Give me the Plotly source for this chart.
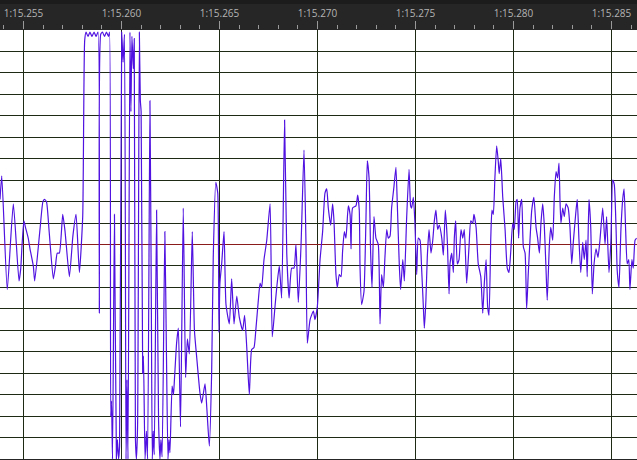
import plotly.graph_objects as go

# time in milliseconds after 1:15.000, amplitude normalised to [-1, 1]
time_ms = [253.80, 253.89, 254.17, 254.48, 254.77, 254.86, 254.92, 255.02, 255.10, 255.24,
           255.33, 255.50, 255.57, 255.84, 255.99, 256.07, 256.17, 256.30, 256.52, 256.63,
           256.72, 256.83, 257.00, 257.12, 257.34, 257.52, 257.68, 257.85, 258.02, 258.12,
           258.19, 258.29, 258.39, 258.49, 258.60, 258.70, 258.80, 258.87, 258.94, 259.03,
           259.13, 259.23, 259.34, 259.39, 259.45, 259.49, 259.54, 259.64, 259.74, 259.79,
           259.85, 259.90, 260.01, 260.08, 260.15, 260.23, 260.28, 260.33, 260.43, 260.48,
           260.53, 260.60, 260.65, 260.71, 260.76, 260.82, 260.91, 260.96, 261.00, 261.08,
           261.12, 261.20, 261.27, 261.33, 261.45, 261.52, 261.57, 261.62, 261.67, 261.79,
           261.89, 261.96, 262.01, 262.07, 262.21, 262.29, 262.37, 262.42, 262.47, 262.58,
           262.65, 262.70, 262.81, 262.90, 263.01, 263.15, 263.27, 263.36, 263.46, 263.61,
           263.72, 263.84, 264.00, 264.09, 264.26, 264.35, 264.48, 264.60, 264.68, 264.81,
           264.91, 264.97, 265.02, 265.11, 265.23, 265.33, 265.50, 265.62, 265.74, 265.88,
           266.01, 266.18, 266.28, 266.39, 266.52, 266.64, 266.76, 266.86, 266.98, 267.07,
           267.15, 267.27, 267.41, 267.58, 267.69, 267.83, 267.92, 268.05, 268.17, 268.32,
           268.43, 268.55, 268.68, 268.80, 268.90, 269.02, 269.16, 269.31, 269.41, 269.48,
           269.62, 269.79, 269.87, 269.99, 270.13, 270.26, 270.38, 270.47, 270.55, 270.67,
           270.77, 270.84, 270.94, 271.01, 271.11, 271.20, 271.28, 271.37, 271.45, 271.57,
           271.66, 271.71, 271.79, 271.96, 272.05, 272.13, 272.17, 272.25, 272.37, 272.47,
           272.54, 272.63, 272.71, 272.78, 272.88, 272.98, 273.10, 273.19, 273.27, 273.36,
           273.44, 273.53, 273.61, 273.70, 273.78, 273.90, 274.00, 274.07, 274.17, 274.24,
           274.35, 274.43, 274.55, 274.67, 274.75, 274.80, 274.89, 274.97, 275.06, 275.14,
           275.23, 275.31, 275.40, 275.45, 275.53, 275.60, 275.69, 275.79, 275.88, 275.96,
           276.04, 276.13, 276.21, 276.34, 276.42, 276.52, 276.62, 276.71, 276.76, 276.85,
           276.93, 276.98, 277.05, 277.13, 277.22, 277.32, 277.41, 277.49, 277.61, 277.73,
           277.82, 277.92, 277.98, 278.09, 278.20, 278.33, 278.43, 278.51, 278.60, 278.68,
           278.75, 278.84, 278.90, 278.97, 279.05, 279.14, 279.22, 279.27, 279.35, 279.45,
           279.57, 279.68, 279.77, 279.86, 279.96, 280.04, 280.13, 280.19, 280.26, 280.33,
           280.42, 280.50, 280.59, 280.67, 280.75, 280.84, 280.93, 281.04, 281.15, 281.23,
           281.32, 281.40, 281.49, 281.57, 281.66, 281.72, 281.83, 281.90, 282.00, 282.08,
           282.17, 282.25, 282.32, 282.37, 282.42, 282.51, 282.59, 282.68, 282.79, 282.88,
           282.97, 283.05, 283.17, 283.25, 283.34, 283.43, 283.53, 283.61, 283.70, 283.76,
           283.85, 283.94, 284.02, 284.11, 284.21, 284.31, 284.41, 284.55, 284.67, 284.75,
           284.87, 284.97, 285.06, 285.14, 285.23, 285.29, 285.38, 285.48, 285.57, 285.64,
           285.72, 285.80, 285.88, 285.94, 286.04, 286.11, 286.20, 286.28]

amplitude = [0.21, 0.32, -0.21, 0.19, -0.17, -0.11, -0.01, 0.11, 0.08, 0.03,
             -0.02, -0.10, -0.17, 0.07, 0.20, 0.21, 0.20, 0.07, -0.16, -0.10,
             -0.04, -0.04, 0.14, 0.06, -0.15, 0.04, 0.14, -0.13, 0.13, 0.95,
             0.99, 0.97, 0.99, 0.97, 0.99, 0.97, 0.99, -0.32, 0.98, 0.99,
             0.97, 0.99, 0.97, 0.99, -0.80, -0.73, -1.00, 0.14, -1.00, -0.91,
             -1.00, -0.94, 0.99, 0.85, 0.98, -1.00, -0.63, -1.00, 0.99, 0.62,
             0.97, 0.82, 0.96, -0.91, -1.00, -0.84, 0.99, 0.67, 0.62, -0.60,
             -0.52, -1.00, -0.87, -1.00, 0.67, -0.26, -1.00, -0.87, -0.98, 0.16,
             -0.82, -1.00, -0.91, -0.99, 0.06, -0.49, -1.00, -0.91, -0.97, -0.66,
             -0.70, -0.63, -0.46, -0.39, -0.85, 0.17, -0.62, -0.44, -0.51, 0.06,
             -0.40, -0.53, -0.69, -0.74, -0.65, -0.76, -0.94, -0.59, -0.06, 0.29,
             0.24, -0.41, -0.18, -0.09, 0.06, -0.28, -0.37, -0.16, -0.37, -0.24,
             -0.34, -0.40, -0.33, -0.48, -0.70, -0.49, -0.48, -0.39, -0.26, -0.18,
             -0.20, -0.07, 0.02, 0.19, -0.43, -0.29, -0.20, -0.10, -0.25, 0.58,
             -0.04, -0.25, -0.11, -0.11, 0.00, -0.27, 0.00, 0.44, 0.01, -0.46,
             -0.35, -0.31, -0.35, -0.29, -0.07, 0.06, 0.24, 0.26, 0.17, 0.09,
             0.19, 0.11, -0.14, -0.20, -0.14, -0.15, -0.03, 0.06, 0.03, 0.18,
             0.14, -0.02, 0.17, 0.18, 0.23, 0.16, -0.11, -0.28, -0.22, 0.11,
             0.39, 0.31, -0.04, -0.20, 0.13, 0.03, 0.00, -0.37, -0.14, -0.20,
             -0.06, 0.07, 0.03, 0.04, 0.17, 0.27, 0.36, 0.19, -0.09, -0.21,
             -0.07, -0.17, 0.13, 0.35, 0.18, 0.17, 0.22, 0.10, -0.14, 0.03,
             0.02, -0.11, -0.29, -0.39, -0.26, -0.06, 0.07, -0.04, 0.02, 0.11,
             0.16, 0.07, 0.09, 0.03, -0.05, 0.16, 0.02, -0.23, -0.09, -0.04,
             -0.13, 0.03, 0.11, -0.09, -0.07, 0.07, 0.03, 0.07, -0.18, -0.01,
             0.11, 0.10, 0.14, 0.08, -0.09, -0.15, -0.32, -0.18, -0.07, -0.29,
             -0.33, 0.03, 0.16, 0.14, 0.31, 0.46, 0.39, 0.33, 0.40, 0.22,
             0.07, -0.11, -0.13, -0.03, 0.10, 0.07, 0.20, 0.21, 0.03, 0.17,
             0.21, -0.01, -0.04, -0.30, -0.14, 0.02, 0.16, 0.22, 0.08, 0.03,
             -0.04, 0.10, 0.19, 0.09, -0.12, -0.26, 0.00, 0.08, 0.02, 0.22,
             0.34, 0.31, 0.38, 0.21, 0.10, 0.17, 0.13, 0.19, 0.17, 0.08,
             -0.09, 0.01, 0.14, 0.21, 0.02, -0.13, 0.01, -0.07, 0.02, -0.15,
             0.21, 0.08, -0.23, -0.09, -0.02, -0.06, 0.02, 0.17, 0.00, 0.13,
             -0.13, 0.02, 0.30, 0.28, 0.08, -0.12, -0.20, 0.07, 0.21, 0.26,
             0.07, -0.09, -0.07, -0.21, -0.07, -0.11, 0.02, 0.03]

tick_ms = [255, 260, 265, 270, 275, 280, 285]
tick_labels = ["1:15.255", "1:15.260", "1:15.265", "1:15.270", "1:15.275", "1:15.280", "1:15.285"]

GRID = "#1f2a14"
BAR = "#262626"

fig = go.Figure()
fig.add_trace(go.Scatter(
    x=time_ms, y=amplitude, mode="lines",
    line=dict(color="#5012e0", width=1.2, shape="spline", smoothing=0.5),
    hoverinfo="skip", showlegend=False,
))

fig.update_layout(
    width=637, height=460,
    margin=dict(l=0, r=0, t=30, b=1, autoexpand=False),
    paper_bgcolor=BAR,
    plot_bgcolor="#ffffff",
    font=dict(family="Open Sans, Liberation Sans, sans-serif", size=10, color="#b4b4b4"),
    xaxis=dict(
        range=[253.80, 286.30],
        side="top", automargin=False,
        tickvals=tick_ms, ticktext=tick_labels,
        ticks="outside", ticklen=8, tickwidth=1, tickcolor="#9a9a9a",
        tickfont=dict(size=10, color="#b4b4b4"),
        showgrid=True, gridcolor=GRID, gridwidth=1.3,
        minor=dict(dtick=1, tick0=250, ticks="outside", ticklen=4,
                   tickwidth=1, tickcolor="#9a9a9a", showgrid=False),
        zeroline=False, showline=False, fixedrange=True,
    ),
    yaxis=dict(
        range=[-1.0, 1.0], automargin=False,
        tick0=0, dtick=0.1,
        showticklabels=False, ticks="",
        showgrid=True, gridcolor=GRID, gridwidth=1.1,
        zeroline=True, zerolinecolor="#8b1c1c", zerolinewidth=1,
        showline=False, fixedrange=True,
    ),
    shapes=[dict(type="rect", xref="paper", yref="paper",
                 x0=0, x1=1, y0=1 + 26 / 429, y1=1 + 30 / 429,
                 fillcolor="#1c1c1c", line=dict(width=0), layer="below")],
)

fig.write_html(
    "out.html",
    config={"displayModeBar": False},
    post_script="document.body.style.margin='0';document.body.style.padding='0';"
                "document.body.style.background='#262626';",
)
